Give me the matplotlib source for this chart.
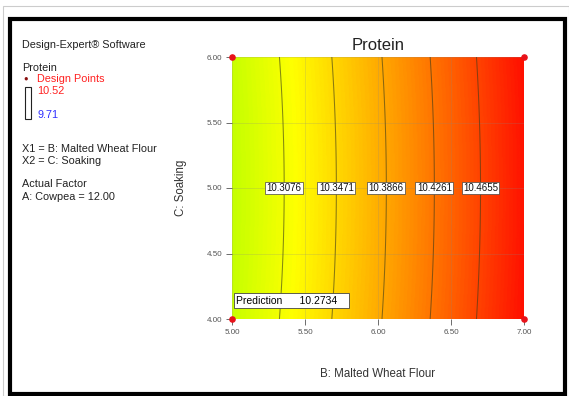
import numpy as np
import matplotlib
matplotlib.use("Agg")
import matplotlib.pyplot as plt
from matplotlib.colors import LinearSegmentedColormap, Normalize
from matplotlib.patches import Rectangle

plt.rcParams['font.family'] = ['Liberation Sans', 'DejaVu Sans']

# Factor ranges
b_range = [5.0, 7.0]          # B: Malted Wheat Flour
c_range = [4.0, 6.0]          # C: Soaking
x_ticks = [5.00, 5.50, 6.00, 6.50, 7.00]
y_ticks = [4.00, 4.50, 5.00, 5.50, 6.00]

# Response scale (colour bar limits)
scale_high = 10.52
scale_low = 9.71

# Fitted response: Protein at (B=5, C=4) plus linear/quadratic terms
prediction = 10.2734
coef_b = 0.103
coef_bb = 0.007
coef_cc = 0.0035

contour_levels = [10.3076, 10.3471, 10.3866, 10.4261, 10.4655]

design_b = [5.0, 7.0, 5.0, 7.0]
design_c = [4.0, 4.0, 6.0, 6.0]


def protein(b, c):
    u = b - b_range[0]
    return (prediction + coef_b * u + coef_bb * u ** 2
            - coef_cc * (1.0 - (c - 5.0) ** 2))


fig = plt.figure(figsize=(5.69, 3.96), dpi=100)

# outer borders
fig.add_artist(Rectangle((3 / 569, 0), 1 - 3 / 569, 1 - 6 / 396, transform=fig.transFigure,
                         fill=False, edgecolor='#cccccc', linewidth=0.8))
fig.add_artist(Rectangle((10 / 569, 2 / 396), 555 / 569, 375 / 396,
                         transform=fig.transFigure, fill=False,
                         edgecolor='black', linewidth=3.0))

ax = fig.add_axes([232 / 569, 1 - 319 / 396, 292 / 569, 262 / 396])

bb = np.linspace(b_range[0], b_range[1], 400)
cc = np.linspace(c_range[0], c_range[1], 300)
B, C = np.meshgrid(bb, cc)
Z = protein(B, C)

cmap = LinearSegmentedColormap.from_list(
    'de', ['#0000ff', '#00ffff', '#00ff00', '#ffff00', '#ff0000'])
ax.imshow(Z, origin='lower', extent=[b_range[0], b_range[1], c_range[0], c_range[1]],
          cmap=cmap, norm=Normalize(scale_low, scale_high), aspect='auto',
          interpolation='bilinear', zorder=0)

ax.grid(True, color='#888888', linewidth=0.5, alpha=0.3, zorder=1)
ax.contour(B, C, Z, levels=contour_levels, colors='#3a3a1a', linewidths=0.75,
           alpha=0.6, zorder=2)

# contour labels along C = 5
row = Z[np.argmin(np.abs(cc - 5.0))]
for lev in contour_levels:
    xb = np.interp(lev, row, bb)
    ax.text(xb, 5.0, f"{lev:.4f}", ha='center', va='center', fontsize=7,
            color='#111111', zorder=4,
            bbox=dict(boxstyle='square,pad=0.15', facecolor='white',
                      edgecolor='#444444', linewidth=0.5))

ax.scatter(design_b, design_c, s=14, color='#e8121a', zorder=5, clip_on=False)

ax.text(0.015, 0.07, f"Prediction      {prediction:.4f}   ", transform=ax.transAxes,
        fontsize=7.5, ha='left', va='center', zorder=4,
        bbox=dict(boxstyle='square,pad=0.25', facecolor='white',
                  edgecolor='#444444', linewidth=0.6))

ax.set_xlim(b_range)
ax.set_ylim(c_range)
ax.set_xticks(x_ticks)
ax.set_yticks(y_ticks)
ax.set_xticklabels([f"{v:.2f}" for v in x_ticks])
ax.set_yticklabels([f"{v:.2f}" for v in y_ticks])
ax.tick_params(labelsize=5.8, colors='#555555', length=4, width=0.6, pad=3)
for s in ax.spines.values():
    s.set_visible(False)

ax.set_title("Protein", fontsize=12, pad=5, color='#222222')
ax.set_xlabel("B: Malted Wheat Flour", fontsize=8.3, labelpad=23, color='#333333')
ax.set_ylabel("C: Soaking", fontsize=8.3, labelpad=14, color='#333333')

# side legend panel
tx = 22 / 569
def ftxt(y, s, **kw):
    fig.text(tx, 1 - y / 396, s, fontsize=7.8, va='center', ha='left',
             color=kw.pop('color', '#222222'), **kw)

ftxt(45, "Design-Expert® Software")
ftxt(68, "Protein")
fig.text(tx + 4 / 569, 1 - 79 / 396, "●", fontsize=5.5, color='#8b1010',
         va='center', ha='center')
fig.text(37 / 569, 1 - 79 / 396, "Design Points", fontsize=7.8, color='#ff2020',
         va='center', ha='left')
fig.text(37 / 569, 1 - 91 / 396, f"{scale_high:.2f}", fontsize=7.8, color='#ff2020',
         va='center', ha='left')
fig.text(37 / 569, 1 - 115 / 396, f"{scale_low:.2f}", fontsize=7.8, color='#3030ff',
         va='center', ha='left')
fig.add_artist(Rectangle((25 / 569, 1 - 119 / 396), 6 / 569, 32 / 396,
                         transform=fig.transFigure, fill=False,
                         edgecolor='#222222', linewidth=0.8))
ftxt(149, "X1 = B: Malted Wheat Flour")
ftxt(161, "X2 = C: Soaking")
ftxt(184, "Actual Factor")
ftxt(197, "A: Cowpea = 12.00")

fig.savefig("out.png", dpi=100)
